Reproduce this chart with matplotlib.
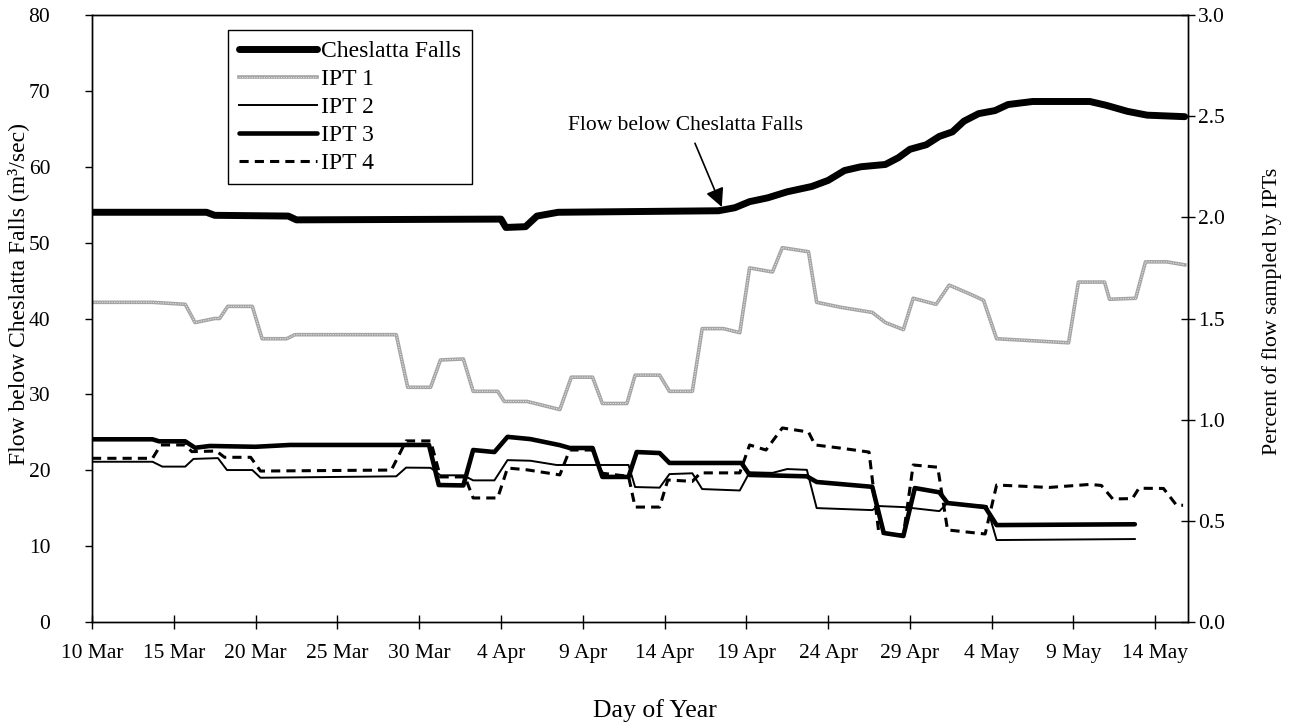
import matplotlib
matplotlib.use("Agg")
import matplotlib.pyplot as plt
from matplotlib.legend_handler import HandlerTuple

# Days since 10 March and the tick labels along the date axis
tick_days = [0, 5, 10, 15, 20, 25, 30, 35, 40, 45, 50, 55, 60, 65]
tick_labels = ["10 Mar", "15 Mar", "20 Mar", "25 Mar", "30 Mar", "4 Apr", "9 Apr",
               "14 Apr", "19 Apr", "24 Apr", "29 Apr", "4 May", "9 May", "14 May"]

# Flow below Cheslatta Falls (m3/sec), left axis
falls_day = [0, 7.0, 7.5, 12.0, 12.5, 25.0, 25.3, 26.5, 27.2, 28.5, 38.3, 39.3, 40.2,
             41.3, 42.5, 44.0, 45.0, 46.0, 47.0, 48.5, 49.3, 50.0, 51.0, 51.8, 52.6,
             53.3, 54.2, 55.2, 56.0, 57.5, 61.0, 62.0, 63.3, 64.5, 66.8]
falls_flow = [54.0, 54.0, 53.6, 53.5, 53.0, 53.1, 52.0, 52.1, 53.5, 54.0, 54.2, 54.6, 55.4,
              55.9, 56.7, 57.4, 58.2, 59.5, 60.0, 60.3, 61.2, 62.3, 62.9, 64.0, 64.6,
              66.0, 67.0, 67.4, 68.2, 68.6, 68.6, 68.1, 67.3, 66.8, 66.6]

# Percent of flow sampled by each IPT, right axis
ipt1_day = [0, 3.7, 5.7, 6.3, 7.5, 7.8, 8.3, 9.8, 10.4, 11.9, 12.4, 18.6, 19.3, 20.7,
            21.3, 22.7, 23.3, 24.8, 25.2, 26.6, 28.6, 29.3, 30.6, 31.2, 32.7, 33.2,
            34.7, 35.3, 36.7, 37.3, 38.6, 39.6, 40.2, 41.6, 42.2, 43.8, 44.3, 45.8,
            47.7, 48.5, 49.6, 50.2, 51.6, 52.4, 53.7, 54.5, 55.3, 58.6, 59.7, 60.3,
            61.9, 62.2, 63.8, 64.4, 65.7, 66.8]
ipt1_pct = [1.58, 1.58, 1.57, 1.48, 1.50, 1.50, 1.56, 1.56, 1.40, 1.40, 1.42, 1.42, 1.16, 1.16,
            1.295, 1.30, 1.14, 1.14, 1.09, 1.09, 1.05, 1.21, 1.21, 1.08, 1.08, 1.22,
            1.22, 1.14, 1.14, 1.45, 1.45, 1.43, 1.75, 1.73, 1.85, 1.83, 1.58, 1.555,
            1.53, 1.48, 1.445, 1.60, 1.57, 1.665, 1.62, 1.59, 1.40, 1.385, 1.38, 1.68,
            1.68, 1.595, 1.60, 1.78, 1.78, 1.765]

ipt2_day = [0, 3.7, 4.3, 5.7, 6.2, 7.7, 8.25, 9.8, 10.3, 18.6, 19.2, 20.7, 21.3, 22.7,
            23.3, 24.6, 25.4, 26.8, 28.4, 32.8, 33.2, 34.7, 35.3, 36.7, 37.3, 39.6,
            40.2, 41.6, 42.5, 43.7, 44.3, 47.7, 48.1, 49.6, 51.8, 52.3, 54.7, 55.3, 63.75]
ipt2_pct = [0.792, 0.792, 0.768, 0.768, 0.806, 0.81, 0.751, 0.751, 0.713, 0.72, 0.763, 0.762,
            0.725, 0.725, 0.70, 0.70, 0.80, 0.797, 0.776, 0.776, 0.667, 0.664, 0.731,
            0.735, 0.657, 0.650, 0.74, 0.737, 0.756, 0.752, 0.563, 0.553, 0.573, 0.568,
            0.548, 0.588, 0.573, 0.405, 0.410]

ipt3_day = [0, 3.7, 4.1, 5.7, 6.3, 7.2, 10.0, 12.1, 20.6, 21.2, 22.7, 23.3, 24.6, 25.4,
            26.8, 28.6, 29.2, 30.6, 31.2, 32.8, 33.3, 34.7, 35.3, 39.7, 40.2, 43.7,
            44.3, 47.7, 48.4, 49.6, 50.3, 51.8, 52.3, 54.6, 55.3, 63.75]
ipt3_pct = [0.903, 0.903, 0.893, 0.893, 0.861, 0.87, 0.866, 0.875, 0.875, 0.677, 0.675, 0.85,
            0.84, 0.915, 0.904, 0.874, 0.86, 0.86, 0.717, 0.717, 0.84, 0.835, 0.786,
            0.786, 0.727, 0.72, 0.692, 0.668, 0.44, 0.425, 0.662, 0.641, 0.588, 0.568,
            0.479, 0.483]

ipt4_day = [0, 3.7, 4.2, 5.7, 6.1, 7.6, 8.1, 9.7, 10.3, 18.3, 19.2, 20.7, 21.3, 22.8,
            23.3, 24.8, 25.4, 26.6, 28.6, 29.2, 30.6, 31.2, 32.8, 33.2, 34.7, 35.2,
            36.7, 37.2, 39.6, 40.2, 41.2, 42.2, 43.8, 44.2, 45.7, 47.5, 48.1, 49.6,
            50.2, 51.7, 52.3, 54.6, 55.3, 58.5, 61.0, 61.7, 62.4, 63.6, 64.0, 65.5,
            66.3, 66.7]
ipt4_pct = [0.809, 0.809, 0.875, 0.875, 0.842, 0.845, 0.814, 0.814, 0.746, 0.751, 0.895,
            0.895, 0.717, 0.717, 0.613, 0.613, 0.761, 0.752, 0.727, 0.85, 0.85, 0.735,
            0.72, 0.568, 0.568, 0.702, 0.695, 0.737, 0.737, 0.875, 0.85, 0.959, 0.939,
            0.875, 0.86, 0.84, 0.44, 0.43, 0.776, 0.765, 0.455, 0.435, 0.677, 0.665,
            0.68, 0.675, 0.608, 0.61, 0.661, 0.66, 0.577, 0.577]

plt.rcParams["font.family"] = ["Liberation Serif", "DejaVu Serif"]

fig = plt.figure(figsize=(12.93, 7.27), dpi=100)
ax = fig.add_axes([92 / 1293, 1 - 622 / 727, 1096 / 1293, 607 / 727])
ax2 = ax.twinx()

ax.set_xlim(0, 67)
ax.set_ylim(0, 80)
ax2.set_ylim(0, 3.0)

# Flow line on the left axis
l_falls, = ax.plot(falls_day, falls_flow, color="black", lw=5.0,
                   solid_joinstyle="round", solid_capstyle="round")

# IPT percentages on the right axis
l1a, = ax2.plot(ipt1_day, ipt1_pct, color="#a4a4a4", lw=2.6)
l1b, = ax2.plot(ipt1_day, ipt1_pct, color="#e6e6e6", lw=0.8, linestyle=(0, (1, 1.2)))
l2, = ax2.plot(ipt2_day, ipt2_pct, color="black", lw=1.4)
l3, = ax2.plot(ipt3_day, ipt3_pct, color="black", lw=3.3, solid_joinstyle="round",
               solid_capstyle="round")
l4, = ax2.plot(ipt4_day, ipt4_pct, color="black", lw=2.2, linestyle=(0, (3, 2)))

# Axis ticks
ax.set_xticks(tick_days)
ax.set_xticklabels(tick_labels)
ax.set_yticks(range(0, 81, 10))
ax2.set_yticks([0, 0.5, 1.0, 1.5, 2.0, 2.5, 3.0])
ax2.set_yticklabels(["0.0", "0.5", "1.0", "1.5", "2.0", "2.5", "3.0"])

ax.tick_params(axis="x", direction="inout", length=10, width=1, pad=11, labelsize=15.5)
ax.tick_params(axis="y", direction="out", length=5, width=1, pad=25, labelsize=15.5)
ax2.tick_params(axis="y", direction="inout", length=10, width=1, pad=2, labelsize=15.5)
for a in (ax, ax2):
    for s in a.spines.values():
        s.set_linewidth(1.0)

# Axis titles
ax.set_ylabel("Flow below Cheslatta Falls (m³/sec)", fontsize=17)
ax.yaxis.set_label_coords(-0.057, 0.54)
ax2.set_ylabel("Percent of flow sampled by IPTs", fontsize=15.8)
ax2.yaxis.set_label_coords(1.068, 0.511)
fig.text(655 / 1293, 1 - 711 / 727, "Day of Year", ha="center", va="center", fontsize=18.5)

# Callout for the flow line
ax.text(36.3, 65.5, "Flow below Cheslatta Falls", ha="center", va="center", fontsize=15.5)
ax.annotate("", xy=(38.5, 54.7), xytext=(36.86, 63.1),
            arrowprops=dict(arrowstyle="-|>", color="black", lw=1.2,
                            mutation_scale=28, shrinkA=0, shrinkB=0))

leg = ax.legend([l_falls, (l1a, l1b), l2, l3, l4],
                ["Cheslatta Falls", "IPT 1", "IPT 2", "IPT 3", "IPT 4"],
                handler_map={tuple: HandlerTuple(ndivide=1)},
                loc="upper left", bbox_to_anchor=((228 - 92) / 1096, (622 - 30) / 607),
                borderaxespad=0, fancybox=False, framealpha=1, edgecolor="black",
                fontsize=17, handlelength=3.3, handletextpad=0.2,
                labelspacing=0.27, borderpad=0.45)
leg.get_frame().set_linewidth(1.0)
ax.set_zorder(ax2.get_zorder() + 1)
ax.patch.set_visible(False)

fig.savefig("out.png", dpi=100)
